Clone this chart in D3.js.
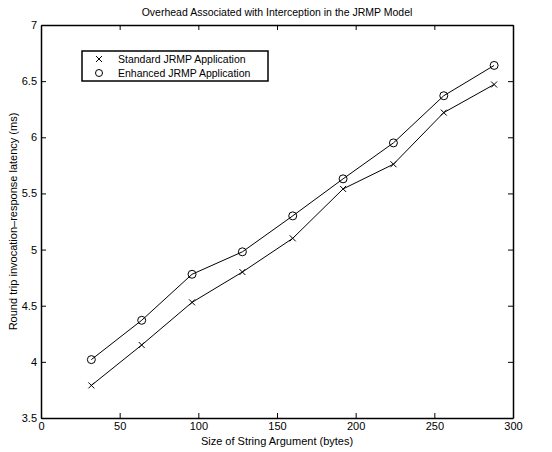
<!DOCTYPE html>
<html>
<head>
<meta charset="utf-8">
<script src="https://cdn.jsdelivr.net/npm/d3@7"></script>
<style>
  body { margin: 0; background: #fff; }
  text { font-family: "Liberation Sans", Arial, sans-serif; fill: #000; }
</style>
</head>
<body>
<svg id="chart" width="552" height="452"></svg>
<script>
// string sizes in bytes
const sizes = [32, 64, 96, 128, 160, 192, 224, 256, 288];
// latency in ms
const standardVals = [3.79, 4.15, 4.53, 4.80, 5.10, 5.54, 5.76, 6.22, 6.47];
const enhancedVals = [4.02, 4.37, 4.78, 4.98, 5.30, 5.63, 5.95, 6.37, 6.64];
const xTicks = [0, 50, 100, 150, 200, 250, 300];
const yTicks = [3.5, 4, 4.5, 5, 5.5, 6, 6.5, 7];
const seriesNames = ["Standard JRMP Application", "Enhanced JRMP Application"];

const svg = d3.select("#chart");
const pl = 41, pr = 513, pt = 25, pb = 418;

const x = d3.scaleLinear().domain([0, 300]).range([pl, pr]);
const y = d3.scaleLinear().domain([3.5, 7]).range([pb, pt]);

// axes, ticks pointing inward like matlab
svg.append("g").attr("transform", `translate(0,${pb})`)
  .call(d3.axisBottom(x).tickValues(xTicks).tickSizeInner(-5).tickSizeOuter(0).tickPadding(4));
svg.append("g").attr("transform", `translate(0,${pt})`)
  .call(d3.axisTop(x).tickValues(xTicks).tickSizeInner(-5).tickSizeOuter(0).tickFormat(""));
svg.append("g").attr("transform", `translate(${pl},0)`)
  .call(d3.axisLeft(y).tickValues(yTicks).tickSizeInner(-5).tickSizeOuter(0).tickPadding(4).tickFormat(d3.format("")));
svg.append("g").attr("transform", `translate(${pr},0)`)
  .call(d3.axisRight(y).tickValues(yTicks).tickSizeInner(-5).tickSizeOuter(0).tickFormat(""));

svg.selectAll(".domain").attr("stroke", "#000").attr("stroke-width", 1.5);
svg.selectAll(".tick line").attr("stroke", "#000");
svg.selectAll(".tick text").attr("font-size", 11).attr("font-family", "Liberation Sans, Arial, sans-serif");

// labels
svg.append("text").attr("x", 277).attr("y", 16).attr("text-anchor", "middle")
  .attr("font-size", 10.5).text("Overhead Associated with Interception in the JRMP Model");
svg.append("text").attr("x", 277).attr("y", 445).attr("text-anchor", "middle")
  .attr("font-size", 11).text("Size of String Argument (bytes)");
svg.append("text").attr("transform", `translate(17,${(pt + pb) / 2}) rotate(-90)`)
  .attr("text-anchor", "middle").attr("font-size", 11)
  .text("Round trip invocation\u2013response latency (ms)");

const line = d3.line().x((d, i) => x(sizes[i])).y(d => y(d));

svg.append("path").datum(standardVals).attr("d", line)
  .attr("fill", "none").attr("stroke", "#000").attr("stroke-width", 1);
svg.append("path").datum(enhancedVals).attr("d", line)
  .attr("fill", "none").attr("stroke", "#000").attr("stroke-width", 1);

function cross(g, cx, cy) {
  g.append("path").attr("d", `M${cx - 3},${cy - 3}L${cx + 3},${cy + 3}M${cx - 3},${cy + 3}L${cx + 3},${cy - 3}`)
    .attr("stroke", "#000").attr("stroke-width", 1);
}

const marks = svg.append("g");
standardVals.forEach((v, i) => cross(marks, x(sizes[i]), y(v)));
marks.selectAll("circle").data(enhancedVals).join("circle")
  .attr("cx", (d, i) => x(sizes[i])).attr("cy", d => y(d)).attr("r", 4)
  .attr("fill", "none").attr("stroke", "#000").attr("stroke-width", 1);

// legend
const lg = svg.append("g");
lg.append("rect").attr("x", 82).attr("y", 51).attr("width", 186).attr("height", 30)
  .attr("fill", "#fff").attr("stroke", "#000").attr("stroke-width", 1.5);
cross(lg, 99, 59);
lg.append("circle").attr("cx", 99).attr("cy", 73).attr("r", 3.5)
  .attr("fill", "none").attr("stroke", "#000");
lg.selectAll("text.leg").data(seriesNames).join("text").attr("class", "leg")
  .attr("x", 118).attr("y", (d, i) => 63 + i * 14).attr("font-size", 10.5).text(d => d);
</script>
</body>
</html>
